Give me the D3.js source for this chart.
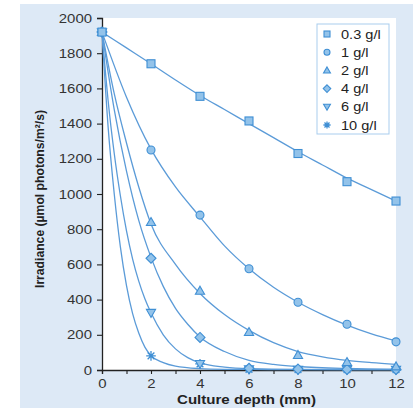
<!DOCTYPE html>
<html>
<head>
<meta charset="utf-8">
<script src="https://cdn.jsdelivr.net/npm/d3@7"></script>
<style>
  body { margin: 0; background: #fff; }
  text { font-family: "Liberation Sans", Arial, sans-serif; }
</style>
</head>
<body>
<div id="chart"></div>
<script>
// Measured points (culture depth mm, irradiance)
const depths = [0, 2, 4, 6, 8, 10, 12];
const seriesNames = ["0.3 g/l", "1 g/l", "2 g/l", "4 g/l", "6 g/l", "10 g/l"];
const symbols = ["square", "circle", "triangle", "diamond", "triangleDown", "asterisk"];
const pts03 = [1920, 1740, 1555, 1415, 1230, 1070, 960];
const pts1  = [1920, 1250, 880, 575, 385, 260, 160];
const pts2  = [1920, 840, 450, 215, 85, 45, 20];
const pts4  = [1920, 635, 185, 10, 5, 3, 3];
const pts6  = [1920, 325, 35, 5, 2, 2, 2];
const pts10 = [1920, 80, 35, 3, 2, 2, 2];

// Fitted curves as [depth, irradiance]
const fit03 = [[0,1920],[1,1830],[2,1740],[3,1648],[4,1560],[5,1480],[6,1400],[7,1320],[8,1240],[9,1165],[10,1090],[11,1025],[12,960]];
const fit1  = [[0,1920],[1,1550],[2,1255],[3,1040],[4,870],[5,705],[6,575],[7,470],[8,385],[9,315],[10,255],[11,205],[12,165]];
const fit2  = [[0,1920],[0.5,1570],[1,1290],[1.5,1040],[2,830],[3,600],[4,435],[5,315],[6,225],[7,155],[8,105],[9,75],[10,55],[11,42],[12,32]];
const fit4  = [[0,1920],[0.5,1480],[1,1130],[1.5,850],[2,640],[2.5,475],[3,350],[3.5,260],[4,188],[5,105],[6,55],[7,32],[8,20],[10,9],[12,5]];
const fit6  = [[0,1920],[0.25,1530],[0.5,1230],[0.75,990],[1,790],[1.25,630],[1.5,505],[1.75,405],[2,325],[2.5,200],[3,120],[3.5,70],[4,40],[5,16],[6,7],[8,3],[12,2]];
const fit10 = [[0,1920],[0.25,1380],[0.5,1000],[0.75,700],[1,480],[1.25,320],[1.5,210],[1.75,130],[2,82],[2.5,42],[3,22],[4,8],[5,4],[6,3],[8,2],[12,2]];

const yTicks = [0, 200, 400, 600, 800, 1000, 1200, 1400, 1600, 1800, 2000];
const xTicks = [0, 2, 4, 6, 8, 10, 12];

const points = [pts03, pts1, pts2, pts4, pts6, pts10];
const fits = [fit03, fit1, fit2, fit4, fit6, fit10];

var W = 413, H = 408;
var margin = { top: 18, right: 17, bottom: 38, left: 102 },
    width = W - margin.left - margin.right,
    height = H - margin.top - margin.bottom;

var lineCol = "#5b9bd8", fillCol = "#93c3ea", strokeCol = "#3f8fd4";

var svg0 = d3.select("#chart").append("svg")
    .attr("width", W).attr("height", H);

// light blue panel
svg0.append("rect").attr("x", 20).attr("y", 4).attr("width", W - 20).attr("height", H - 4)
    .attr("fill", "#dde9f6");

var svg = svg0.append("g")
    .attr("transform", "translate(" + margin.left + "," + margin.top + ")");

var x = d3.scaleLinear().domain([0, 12]).range([0, width]);
var y = d3.scaleLinear().domain([0, 2000]).range([height, 0]);

// white plot area
svg.append("rect").attr("width", width).attr("height", height).attr("fill", "#fff");

// stretch text a little wider, like the reference
function widen(sel, f) {
    sel.each(function () {
        var len = this.getComputedTextLength();
        d3.select(this).attr("textLength", len * f).attr("lengthAdjust", "spacingAndGlyphs");
    });
}

// Axes
var yAxis = svg.append("g")
    .call(d3.axisLeft(y).tickValues(yTicks).tickSize(5).tickPadding(5).tickFormat(d3.format("d")));
var xAxis = svg.append("g")
    .attr("transform", "translate(0," + height + ")")
    .call(d3.axisBottom(x).tickValues(d3.range(0, 13)).tickSize(4).tickPadding(5)
        .tickFormat(d => xTicks.includes(d) ? d : ""));
[yAxis, xAxis].forEach(a => {
    a.select(".domain").attr("stroke", "#222").attr("stroke-width", 1.3);
    a.selectAll(".tick line").attr("stroke", "#222").attr("stroke-width", 1.1);
    a.selectAll(".tick text").attr("fill", "#333").style("font-size", "13px")
        .style("font-family", "'Liberation Sans', Arial, sans-serif");
    widen(a.selectAll(".tick text"), 1.15);
});

// Axis titles
var xt = svg.append("text")
    .attr("x", (177 + 316) / 2 - margin.left)
    .attr("y", height + 34)
    .attr("text-anchor", "middle")
    .style("font-size", "12px").style("font-weight", "bold").attr("fill", "#222")
    .text("Culture depth (mm)");
xt.attr("textLength", 139).attr("lengthAdjust", "spacingAndGlyphs");

var yt = svg.append("text")
    .attr("transform", "translate(" + (44 - margin.left) + "," + (199 - margin.top) + ") rotate(-90)")
    .attr("text-anchor", "middle")
    .style("font-size", "12px").style("font-weight", "bold").attr("fill", "#222")
    .text("Irradiance (µmol photons/m²/s)");
yt.attr("textLength", 178).attr("lengthAdjust", "spacingAndGlyphs");

// Fitted curves
var line = d3.line()
    .x(d => x(d[0]))
    .y(d => y(d[1]))
    .curve(d3.curveMonotoneX);

fits.forEach(f => {
    svg.append("path").datum(f)
        .attr("fill", "none")
        .attr("stroke", lineCol)
        .attr("stroke-width", 1.3)
        .attr("d", line);
});

// Marker shapes
function drawMarker(g, sym, s) {
    if (sym === "square") {
        g.append("rect").attr("x", -s).attr("y", -s).attr("width", 2 * s).attr("height", 2 * s);
    } else if (sym === "circle") {
        g.append("circle").attr("r", s);
    } else if (sym === "triangle") {
        g.append("path").attr("d", `M0,${-s * 1.15}L${s * 1.15},${s * 0.85}L${-s * 1.15},${s * 0.85}Z`);
    } else if (sym === "triangleDown") {
        g.append("path").attr("d", `M0,${s * 1.15}L${s * 1.15},${-s * 0.85}L${-s * 1.15},${-s * 0.85}Z`);
    } else if (sym === "diamond") {
        g.append("path").attr("d", `M0,${-s * 1.25}L${s * 1.25},0L0,${s * 1.25}L${-s * 1.25},0Z`);
    } else if (sym === "asterisk") {
        var r = s * 1.2;
        g.append("path").attr("d",
            `M${-r},0L${r},0M0,${-r}L0,${r}M${-r * 0.7},${-r * 0.7}L${r * 0.7},${r * 0.7}M${-r * 0.7},${r * 0.7}L${r * 0.7},${-r * 0.7}`);
    }
    g.selectAll("*").attr("fill", sym === "asterisk" ? "none" : fillCol)
        .attr("stroke", strokeCol).attr("stroke-width", sym === "asterisk" ? 1.3 : 1.1);
}

// Points (draw last series first so squares sit on top at x=0)
for (let i = points.length - 1; i >= 0; i--) {
    var gp = svg.append("g");
    depths.forEach((d, j) => {
        var m = gp.append("g")
            .attr("transform", "translate(" + x(d) + "," + y(points[i][j]) + ")");
        drawMarker(m, symbols[i], 4);
    });
}

// Legend
var lg = svg0.append("g").attr("transform", "translate(317,24)");
lg.append("rect").attr("width", 72).attr("height", 110)
    .attr("fill", "#fff").attr("stroke", "#a9cdee").attr("stroke-width", 1);
seriesNames.forEach((name, i) => {
    var row = lg.append("g").attr("transform", "translate(0," + (10 + i * 18.2) + ")");
    var m = row.append("g").attr("transform", "translate(10,0)");
    drawMarker(m, symbols[i], 3);
    var t = row.append("text").attr("x", 24).attr("y", 0).attr("dy", "0.35em")
        .style("font-size", "13px").attr("fill", "#222").text(name);
    widen(t, 1.12);
});
</script>
</body>
</html>
